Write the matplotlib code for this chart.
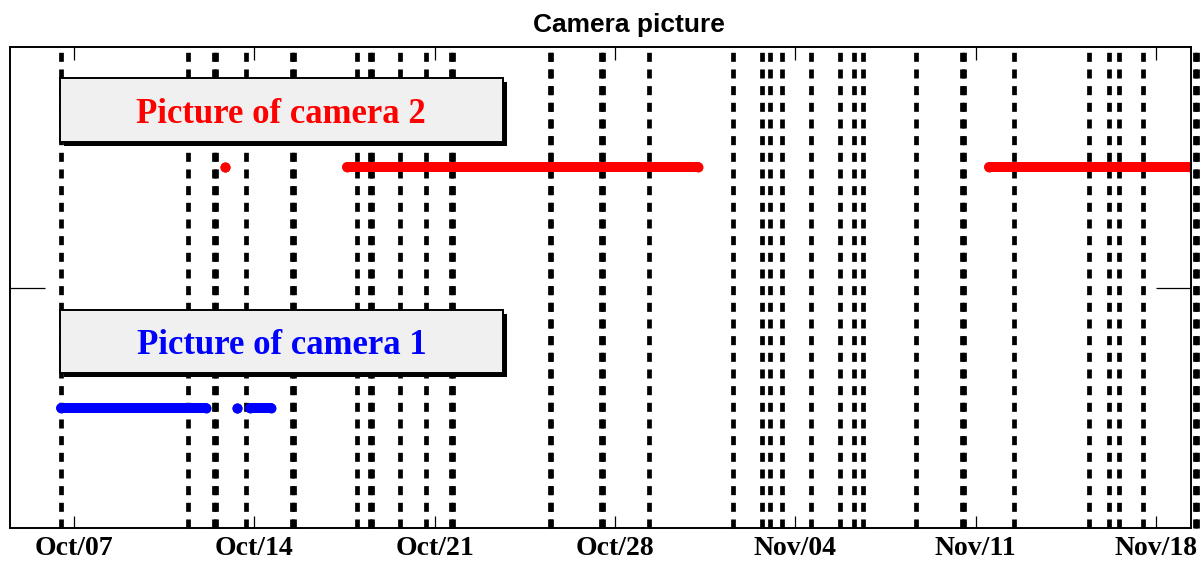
import matplotlib
matplotlib.use('Agg')
import matplotlib.pyplot as plt
import matplotlib.dates as mdates
from matplotlib.patches import Rectangle
from datetime import datetime

# times of the vertical marker lines (close pairs show as thicker lines)
event_times = [
    "2013-10-06 12:15", "2013-10-11 09:50", "2013-10-12 10:40", "2013-10-12 12:00",
    "2013-10-13 15:50", "2013-10-15 11:10", "2013-10-15 12:30", "2013-10-17 23:15",
    "2013-10-18 11:50", "2013-10-18 13:10", "2013-10-19 15:35", "2013-10-20 15:35",
    "2013-10-21 15:10", "2013-10-21 17:30", "2013-10-25 11:20", "2013-10-25 12:40",
    "2013-10-27 11:20", "2013-10-27 12:40", "2013-10-29 07:55", "2013-11-01 14:10",
    "2013-11-02 17:15", "2013-11-03 00:30", "2013-11-03 11:15", "2013-11-04 14:40",
    "2013-11-05 17:30", "2013-11-06 06:40", "2013-11-06 15:20", "2013-11-08 16:20",
    "2013-11-10 11:30", "2013-11-10 13:30", "2013-11-12 11:45", "2013-11-15 09:50",
    "2013-11-16 04:20", "2013-11-16 13:55", "2013-11-17 12:15", "2013-11-19 12:00",
    "2013-11-19 14:00",
]

# picture periods (start, end) for each camera
cam2_start = ["2013-10-12 20:40", "2013-10-17 14:25", "2013-11-11 12:30"]
cam2_end = ["2013-10-12 20:40", "2013-10-31 05:30", "2013-11-19 07:40"]
cam1_start = ["2013-10-06 12:00", "2013-10-13 08:10", "2013-10-13 19:55"]
cam1_end = ["2013-10-12 02:40", "2013-10-13 08:10", "2013-10-14 15:35"]

cam_level = {"cam1": 1, "cam2": 2}
labels = ["Picture of camera 1", "Picture of camera 2"]


def d(s):
    return mdates.date2num(datetime.strptime(s, "%Y-%m-%d %H:%M"))


plt.rcParams['lines.scale_dashes'] = False

fig = plt.figure(figsize=(12.02, 5.62), dpi=100)
ax = fig.add_axes([10 / 1202, 1 - 528 / 562, 1181 / 1202, 481 / 562])

for t in event_times:
    ax.axvline(d(t), color='black', lw=3.4, linestyle=(0, (6.5, 5.5)),
               clip_on=False, zorder=2)

for s, e in zip(cam2_start, cam2_end):
    ax.plot([d(s), d(e)], [cam_level["cam2"]] * 2, color='red', lw=7.2,
            solid_capstyle='round', marker='o', ms=7.2, mew=0, zorder=4)
for s, e in zip(cam1_start, cam1_end):
    ax.plot([d(s), d(e)], [cam_level["cam1"]] * 2, color='blue', lw=7.2,
            solid_capstyle='round', marker='o', ms=7.2, mew=0, zorder=4)

ax.set_xlim(d("2013-10-04 12:23"), d("2013-11-19 08:38"))
ax.set_ylim(0.5, 2.5)
ax.xaxis.set_major_locator(mdates.WeekdayLocator(byweekday=mdates.MO))
ax.xaxis.set_major_formatter(mdates.DateFormatter('%b/%d'))
ax.set_yticks([1.5])
ax.set_yticklabels([])
ax.tick_params(axis='x', direction='in', length=9, width=0.9, top=True, pad=6)
ax.tick_params(axis='y', direction='in', length=25, width=0.9, right=True)
for lab in ax.get_xticklabels():
    lab.set_fontfamily('Liberation Serif')
    lab.set_fontweight('bold')
    lab.set_fontsize(20)
for sp in ax.spines.values():
    sp.set_linewidth(1.4)
    sp.set_zorder(5)

# label boxes with a drop shadow
box_x, box_w, box_h = 0.0423, 0.3749, 0.1318
shadow_dx, shadow_dy = 0.0034, 0.0083
text_base = 0.039
for y0, text, col in [(0.3222, labels[0], 'blue'), (0.8031, labels[1], 'red')]:
    ax.add_patch(Rectangle((box_x + shadow_dx, y0 - shadow_dy), box_w, box_h,
                           transform=ax.transAxes, facecolor='black',
                           edgecolor='none', zorder=6))
    ax.add_patch(Rectangle((box_x, y0), box_w, box_h, transform=ax.transAxes,
                           facecolor='#f0f0f0', edgecolor='black', lw=1.4,
                           zorder=7))
    ax.text(box_x + box_w / 2, y0 + text_base, text, transform=ax.transAxes,
            ha='center', va='baseline', color=col, fontsize=25,
            fontfamily='Liberation Serif', fontweight='bold', zorder=8)

fig.text(629 / 1202, 1 - 25 / 562, "Camera picture", ha='center', va='center',
         fontsize=19, fontweight='bold', fontfamily='Liberation Sans')

fig.savefig('out.png', dpi=100)
